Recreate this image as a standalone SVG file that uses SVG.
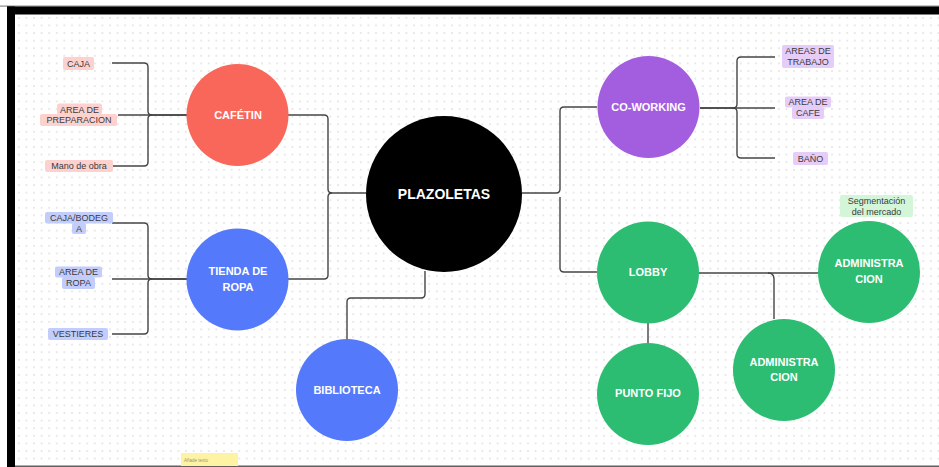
<svg xmlns="http://www.w3.org/2000/svg" width="939" height="467" viewBox="0 0 939 467">
  <defs>
    <pattern id="dots" x="15" y="14" width="7.6" height="7.6" patternUnits="userSpaceOnUse">
      <circle cx="3.8" cy="3.8" r="1" fill="#e3e3e3"/>
    </pattern>
    <style>
      .con { fill: none; stroke: #454545; stroke-width: 1.4; }
      .ct { font-family: "Liberation Sans", Arial, sans-serif; font-weight: bold; fill: #ffffff; text-anchor: middle; dominant-baseline: central; font-size: 11px; }
      .lt { font-family: "Liberation Sans", Arial, sans-serif; fill: #3a3a3a; text-anchor: middle; dominant-baseline: central; font-size: 9px; }
      .pink { fill: #fdd2ce; }
      .blue { fill: #c3cdfb; }
      .purple { fill: #e6cdf8; }
      .green { fill: #d3f6d8; }
    </style>
  </defs>

  <!-- frame / background -->
  <rect x="0" y="0" width="939" height="467" fill="#ffffff"/>
  <rect x="15" y="14" width="924" height="451" fill="url(#dots)"/>
  <rect x="0" y="5.5" width="939" height="1.2" fill="#8a8a8a"/>
  <rect x="7" y="6.5" width="932" height="8" fill="#000000"/>
  <rect x="7" y="6.5" width="8" height="460.5" fill="#000000"/>
  <rect x="15" y="465.5" width="924" height="1.5" fill="#606060"/>

  <!-- connectors -->
  <g id="connectors">
    <path class="con" d="M288,115 H324 Q328,115 328,119 V189 Q328,193 332,193 H366"/>
    <path class="con" d="M288,279 H324 Q328,279 328,275 V197 Q328,193 332,193"/>
    <path class="con" d="M522,193 H556 Q560,193 560,189 V111 Q560,107 564,107 H597"/>
    <path class="con" d="M560,197 V268 Q560,272 564,272 H597"/>
    <path class="con" d="M425,271 V294 Q425,298 421,298 H351 Q347,298 347,302 V339"/>
    <!-- cafetin brace -->
    <path class="con" d="M112,63 H144 Q148,63 148,67 V111 Q148,115 152,115 H187"/>
    <path class="con" d="M118,115 H187"/>
    <path class="con" d="M112,166 H144 Q148,166 148,162 V119 Q148,115 152,115"/>
    <!-- tienda brace -->
    <path class="con" d="M112,223 H144 Q148,223 148,227 V275 Q148,279 152,279 H187"/>
    <path class="con" d="M112,279 H187"/>
    <path class="con" d="M112,334 H144 Q148,334 148,330 V283 Q148,279 152,279"/>
    <!-- coworking brace -->
    <path class="con" d="M775,57 H741 Q737,57 737,61 V104 Q737,108 733,108 H700"/>
    <path class="con" d="M700,108 H775"/>
    <path class="con" d="M775,158 H741 Q737,158 737,154 V112 Q737,108 733,108"/>
    <!-- lobby -->
    <path class="con" d="M699,273 H819"/>
    <path class="con" d="M768,273 Q774,273 774,279 V319"/>
    <path class="con" d="M648,323 V343"/>
  </g>

  <!-- nodes -->
  <g id="plazoletas">
    <circle cx="444" cy="194" r="78" fill="#000000"/>
    <text class="ct" x="444" y="194" style="font-size:14px">PLAZOLETAS</text>
  </g>
  <g id="cafetin">
    <circle cx="237.5" cy="115" r="51" fill="#f86759"/>
    <text class="ct" x="238" y="115">CAFÉTIN</text>
  </g>
  <g id="tienda">
    <circle cx="237.5" cy="279.5" r="51" fill="#5479fb"/>
    <text class="ct" x="238" y="271">TIENDA DE</text>
    <text class="ct" x="238" y="287">ROPA</text>
  </g>
  <g id="biblioteca">
    <circle cx="347" cy="390" r="51" fill="#5479fb"/>
    <text class="ct" x="347" y="390">BIBLIOTECA</text>
  </g>
  <g id="coworking">
    <circle cx="648.5" cy="107" r="51" fill="#a35ddf"/>
    <text class="ct" x="648.5" y="107">CO-WORKING</text>
  </g>
  <g id="lobby">
    <circle cx="648" cy="272.5" r="51" fill="#2cbd72"/>
    <text class="ct" x="648" y="272">LOBBY</text>
  </g>
  <g id="puntofijo">
    <circle cx="648" cy="394" r="51" fill="#2cbd72"/>
    <text class="ct" x="648" y="393">PUNTO FIJO</text>
  </g>
  <g id="admin1">
    <circle cx="869" cy="272" r="51" fill="#2cbd72"/>
    <text class="ct" x="869" y="263">ADMINISTRA</text>
    <text class="ct" x="869" y="279">CION</text>
  </g>
  <g id="admin2">
    <circle cx="784" cy="370" r="51" fill="#2cbd72"/>
    <text class="ct" x="784" y="362">ADMINISTRA</text>
    <text class="ct" x="784" y="377">CION</text>
  </g>

  <!-- labels -->
  <g id="lbl-caja">
    <rect class="pink" x="63" y="57" width="31" height="13" rx="2"/>
    <text class="lt" x="78.5" y="63.5">CAJA</text>
  </g>
  <g id="lbl-preparacion">
    <rect class="pink" x="57" y="103.5" width="45" height="11" rx="2"/>
    <rect class="pink" x="40" y="114" width="77" height="12" rx="2"/>
    <text class="lt" x="79.5" y="109.5">AREA DE</text>
    <text class="lt" x="79" y="120">PREPARACION</text>
  </g>
  <g id="lbl-mano">
    <rect class="pink" x="45" y="160" width="68" height="12" rx="2"/>
    <text class="lt" x="79" y="166">Mano de obra</text>
  </g>
  <g id="lbl-bodega">
    <rect class="blue" x="45" y="212" width="68" height="11.5" rx="2"/>
    <rect class="blue" x="72" y="223" width="14" height="11" rx="2"/>
    <text class="lt" x="79" y="217.5">CAJA/BODEG</text>
    <text class="lt" x="79" y="228.5">A</text>
  </g>
  <g id="lbl-ropa">
    <rect class="blue" x="55" y="266.5" width="47" height="11" rx="2"/>
    <rect class="blue" x="62" y="277" width="33" height="12" rx="2"/>
    <text class="lt" x="78.5" y="272">AREA DE</text>
    <text class="lt" x="78.5" y="283">ROPA</text>
  </g>
  <g id="lbl-vestieres">
    <rect class="blue" x="48" y="328" width="60" height="12" rx="2"/>
    <text class="lt" x="78" y="334">VESTIERES</text>
  </g>
  <g id="lbl-trabajo">
    <rect class="purple" x="782" y="45" width="52" height="23" rx="2"/>
    <text class="lt" x="808" y="51">AREAS DE</text>
    <text class="lt" x="808" y="62">TRABAJO</text>
  </g>
  <g id="lbl-cafe">
    <rect class="purple" x="785" y="96.5" width="46" height="11" rx="2"/>
    <rect class="purple" x="792" y="107" width="32" height="12" rx="2"/>
    <text class="lt" x="808" y="102">AREA DE</text>
    <text class="lt" x="808" y="113">CAFE</text>
  </g>
  <g id="lbl-bano">
    <rect class="purple" x="793" y="152" width="35" height="13" rx="2"/>
    <text class="lt" x="810.5" y="158.5">BAÑO</text>
  </g>
  <g id="lbl-segmentacion">
    <rect class="green" x="840" y="195" width="73" height="22" rx="2"/>
    <text class="lt" x="876.5" y="201">Segmentación</text>
    <text class="lt" x="876.5" y="212">del mercado</text>
  </g>
  <g id="note">
    <rect x="181" y="453" width="57" height="13" fill="#fdf3a3"/>
    <text x="184" y="461.5" style="font-family:'Liberation Sans',Arial,sans-serif;font-size:4.5px;fill:#9a9a7a">Añade texto</text>
  </g>
</svg>
